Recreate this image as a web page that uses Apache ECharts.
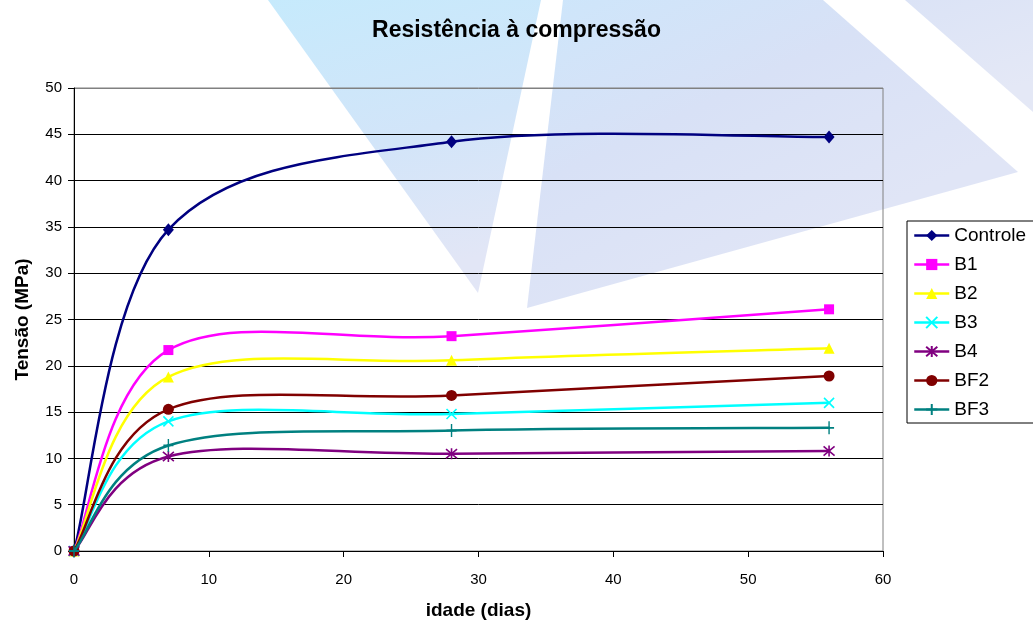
<!DOCTYPE html>
<html>
<head>
<meta charset="utf-8">
<title>Resistência à compressão</title>
<script src="https://cdn.jsdelivr.net/npm/echarts@6/dist/echarts.min.js"></script>
<style>
  html, body { margin: 0; padding: 0; background: #fff; }
  #chart { width: 1033px; height: 625px; }
</style>
</head>
<body>
<div id="chart"></div>
<script>
// Ages (days) at which the specimens were tested
const days = [0, 7, 28, 56];

// Compressive strength (MPa) per mix
const controle = [0, 34.7, 44.2, 44.7];
const b1  = [0, 21.7, 23.2, 26.1];
const b2  = [0, 18.8, 20.6, 21.9];
const b3  = [0, 14.0, 14.8, 16.0];
const b4  = [0, 10.2, 10.5, 10.8];
const bf2 = [0, 15.3, 16.8, 18.9];
const bf3 = [0, 11.4, 13.0, 13.3];

const seriesNames = ['Controle', 'B1', 'B2', 'B3', 'B4', 'BF2', 'BF3'];
const seriesValues = [controle, b1, b2, b3, b4, bf2, bf3];

const xTicks = [0, 10, 20, 30, 40, 50, 60];
const yTicks = [0, 5, 10, 15, 20, 25, 30, 35, 40, 45, 50];

const FONT = '"Liberation Sans", Arial, sans-serif';
const LINE_W = 2.5;

const styles = [
  { color: '#000080', symbol: 'diamond', size: [11, 13] },
  { color: '#FF00FF', symbol: 'rect', size: 10 },
  { color: '#FFFF00', symbol: 'triangle', size: 11 },
  { color: '#00FFFF', symbol: 'path://M0,0L10,10M10,0L0,10', size: 10, stroke: true },
  { color: '#800080', symbol: 'path://M0,0L10,10M10,0L0,10M5,-1L5,11', size: 11, stroke: true },
  { color: '#800000', symbol: 'circle', size: 11 },
  { color: '#008080', symbol: 'path://M5,0L5,12M0,6L10,6', size: [10, 13], stroke: true }
];

// Smoothed curve through the data points (cardinal spline, tension 1/6),
// positioned with the grid's own coordinate conversion.
function makeCurveRenderer(color) {
  return function (params, api) {
    if (params.dataIndexInside !== 0) return null;
    const n = params.dataInsideLength;
    const pts = [];
    for (let k = 0; k < n; k++) {
      pts.push(api.coord([api.value(0, k), api.value(1, k)]));
    }
    const children = [];
    for (let k = 0; k < n - 1; k++) {
      const p0 = pts[k - 1] || pts[k];
      const p1 = pts[k];
      const p2 = pts[k + 1];
      const p3 = pts[k + 2] || pts[k + 1];
      children.push({
        type: 'bezierCurve',
        shape: {
          x1: p1[0], y1: p1[1],
          cpx1: p1[0] + (p2[0] - p0[0]) / 6, cpy1: p1[1] + (p2[1] - p0[1]) / 6,
          cpx2: p2[0] - (p3[0] - p1[0]) / 6, cpy2: p2[1] - (p3[1] - p1[1]) / 6,
          x2: p2[0], y2: p2[1]
        },
        style: { fill: null, stroke: color, lineWidth: LINE_W, lineCap: 'round' },
        silent: true
      });
    }
    return { type: 'group', children: children };
  };
}

const markerSeries = seriesNames.map((name, i) => {
  const st = styles[i];
  return {
    name: name,
    type: 'line',
    data: days.map((d, k) => [d, seriesValues[i][k]]),
    symbol: st.symbol,
    symbolSize: st.size,
    showAllSymbol: true,
    lineStyle: { color: st.color, width: LINE_W, opacity: 0 },
    itemStyle: st.stroke
      ? { color: st.color, borderColor: st.color, borderWidth: 1.6 }
      : { color: st.color, borderWidth: 0 },
    emphasis: { disabled: true },
    z: 3 + 2 * i
  };
});

const curveSeries = seriesNames.map((name, i) => ({
  name: name,
  type: 'custom',
  data: days.map((d, k) => [d, seriesValues[i][k]]),
  encode: { x: 0, y: 1 },
  renderItem: makeCurveRenderer(styles[i].color),
  silent: true,
  z: 2 + 2 * i
}));

// Soft decorative background panels
const bgPanels = [
  {
    points: [[268, 0], [541, 0], [478, 293]],
    stops: [[0, '#c6eafc'], [0.55, '#d2e5f9'], [1, '#e2e6f6']]
  },
  {
    points: [[563, 0], [823, 0], [1018, 172], [527, 308]],
    stops: [[0, '#cde6fb'], [0.5, '#d8e1f6'], [1, '#e0e5f6']]
  },
  {
    points: [[905, 0], [1033, 0], [1033, 112]],
    stops: [[0, '#dbe3f6'], [1, '#e4e8f6']]
  }
];

const graphicEls = bgPanels.map(p => ({
  type: 'polygon',
  z: -10,
  silent: true,
  shape: { points: p.points },
  style: {
    fill: {
      type: 'linear', x: 0, y: 0, x2: 0.3, y2: 1,
      colorStops: p.stops.map(s => ({ offset: s[0], color: s[1] }))
    }
  }
}));

const chart = echarts.init(document.getElementById('chart'), null, { renderer: 'canvas' });

chart.setOption({
  animation: false,
  backgroundColor: '#ffffff',
  graphic: { elements: graphicEls },
  title: {
    text: 'Resistência à compressão',
    left: 'center',
    top: 19,
    padding: 0,
    textStyle: { fontFamily: FONT, fontSize: 23, fontWeight: 'bold', color: '#000' }
  },
  grid: {
    left: 74, right: 150, top: 88, bottom: 69,
    show: true,
    borderColor: '#808080',
    borderWidth: 1,
    backgroundColor: 'transparent'
  },
  legend: {
    orient: 'vertical',
    left: 907,
    top: 221,
    padding: [5, 8, 4, 6],
    itemGap: 10,
    itemWidth: 35,
    itemHeight: 14,
    borderColor: '#000',
    borderWidth: 1,
    backgroundColor: '#ffffff',
    data: seriesNames,
    lineStyle: { width: LINE_W, opacity: 1 },
    textStyle: { fontFamily: FONT, fontSize: 19, color: '#000', lineHeight: 19 }
  },
  xAxis: {
    type: 'value',
    min: xTicks[0],
    max: xTicks[xTicks.length - 1],
    interval: xTicks[1] - xTicks[0],
    name: 'idade (dias)',
    nameLocation: 'middle',
    nameGap: 50,
    nameTextStyle: { fontFamily: FONT, fontSize: 19, fontWeight: 'bold', color: '#000' },
    axisLine: { show: true, onZero: false, lineStyle: { color: '#000', width: 1 } },
    axisTick: { show: true, inside: false, length: 6, lineStyle: { color: '#000' } },
    axisLabel: { fontFamily: FONT, fontSize: 15, color: '#000', margin: 21 },
    splitLine: { show: false }
  },
  yAxis: {
    type: 'value',
    min: yTicks[0],
    max: yTicks[yTicks.length - 1],
    interval: yTicks[1] - yTicks[0],
    name: 'Tensão (MPa)',
    nameLocation: 'middle',
    nameGap: 42,
    nameTextStyle: { fontFamily: FONT, fontSize: 19, fontWeight: 'bold', color: '#000' },
    axisLine: { show: true, lineStyle: { color: '#000', width: 1 } },
    axisTick: { show: true, inside: false, length: 6, lineStyle: { color: '#000' } },
    axisLabel: { fontFamily: FONT, fontSize: 15, color: '#000', margin: 12 },
    splitLine: {
      show: true,
      lineStyle: {
        color: yTicks.map((t, i) => (i === yTicks.length - 1 ? '#808080' : '#000')),
        width: 1
      }
    }
  },
  series: markerSeries.concat(curveSeries)
});
</script>
</body>
</html>
